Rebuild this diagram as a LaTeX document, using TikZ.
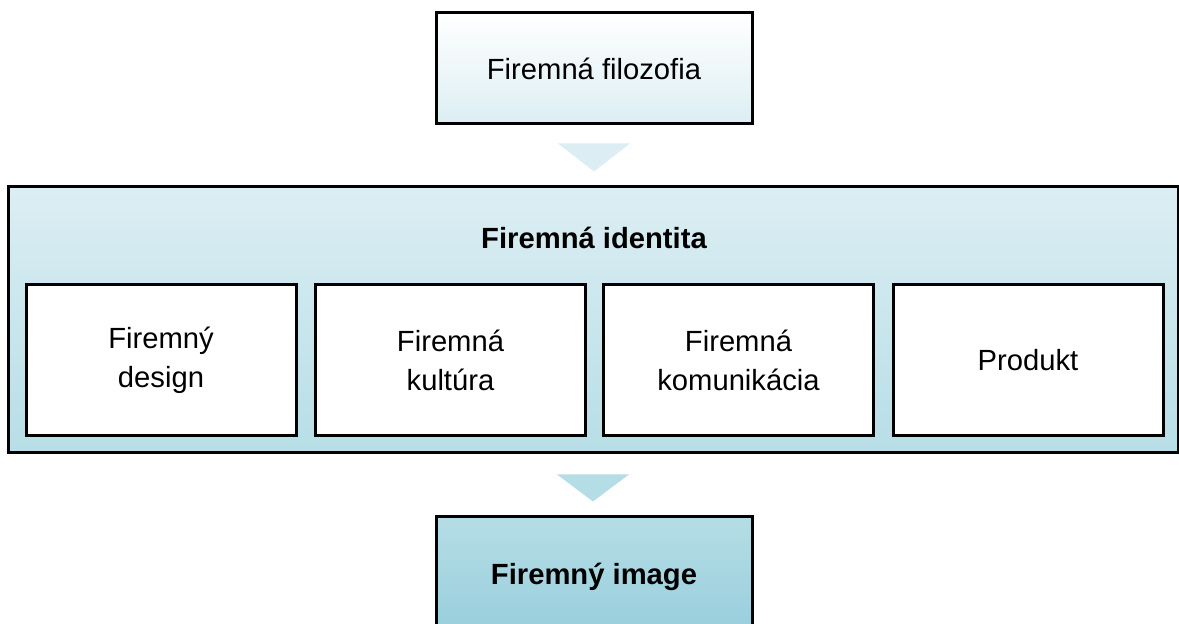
\documentclass[tikz,border=0pt]{standalone}
\usepackage{fontspec}
\setmainfont{Liberation Sans}
\usetikzlibrary{calc}
\definecolor{paleblue}{HTML}{DCEEF3}
\definecolor{midblue}{HTML}{B5DDE6}
\definecolor{deepblue}{HTML}{92CBDA}
\tikzset{
  box/.style={draw=black,line width=1.5pt,align=center,inner sep=0pt,
    font=\fontsize{14.6}{19.5}\selectfont},
  outer/.style={box,minimum width=158pt},
  part/.style={box,fill=white,minimum width=135pt,minimum height=75.5pt},
  step arrow/.style={fill=#1,draw=none}
}

\begin{document}
\begin{tikzpicture}[x=0.5pt,y=0.5pt]
    \clip (0,0) rectangle (1179,624);
    \fill[white] (0,0) rectangle (1179,624);
    % philosophy on top
    \node[outer,top color=white,bottom color=paleblue,minimum height=55.5pt]
      (filo) at (594,555.5) {Firemná filozofia};
    % identity frame with its four parts
    \node[box,top color=paleblue,bottom color=midblue!95!paleblue,
      minimum width=585pt,minimum height=133pt] (ident) at (593,304) {};
    \node[font=\fontsize{14.6}{17.5}\selectfont\bfseries] (title) at (594,386) {Firemná identita};
    \node[part] (design) at (161,263.5) {Firemný\\design};
    \node[part] (kult) at (450.5,263.5) {Firemná\\kultúra};
    \node[part] (komu) at (738.5,263.5) {Firemná\\komunikácia};
    \node[part] (prod) at (1028,263.5) {Produkt};
    % image at the bottom, cut by the page edge
    \node[outer,top color=midblue,bottom color=deepblue!85!midblue,minimum height=60pt,
      font=\fontsize{14.6}{17.5}\selectfont\bfseries] (image) at (594,47) {Firemný image};
    % pointers between the levels
    \fill[step arrow=paleblue] ($(filo.south)+(-36,-18)$) -- ($(filo.south)+(36,-18)$)
      -- ($(filo.south)+(0,-46)$) -- cycle;
    \fill[step arrow=midblue] ($(ident.south)+(-36,-20)$) -- ($(ident.south)+(36,-20)$)
      -- ($(ident.south)+(0,-47)$) -- cycle;
\end{tikzpicture}
\end{document}
